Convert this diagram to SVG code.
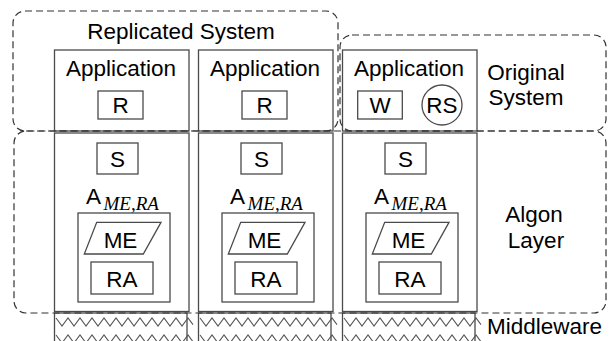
<svg xmlns="http://www.w3.org/2000/svg" width="610" height="341" viewBox="0 0 610 341">
<style>
.bx{fill:none;stroke:#4a4a4a;stroke-width:1.3}
.zz{fill:none;stroke:#555;stroke-width:1.1}
.ds{fill:none;stroke:#333;stroke-width:1.2;stroke-dasharray:7 4}
.t{font-family:"Liberation Sans",Arial,sans-serif;font-size:22.5px;fill:#000;text-anchor:middle}
.ts{font-family:"Liberation Sans",Arial,sans-serif;font-size:22.5px;fill:#000}
.it{font-family:"Liberation Serif","Times New Roman",serif;font-style:italic;font-size:19px;fill:#000}
</style>
<defs>
<g id="algon">
<rect class="bx" x="54.5" y="133" width="134.5" height="178.5"/>
<rect class="bx" x="97" y="143" width="41" height="31"/>
<text class="t" x="117.5" y="166.5">S</text>
<text class="ts" x="86" y="204">A</text>
<text class="it" x="103.5" y="210">ME,RA</text>
<rect class="bx" x="78" y="213" width="92" height="89"/>
<polygon class="bx" points="96.7,222.3 161,222.3 143.3,254 84.3,254"/>
<text class="t" x="120.5" y="248">ME</text>
<rect class="bx" x="91" y="262" width="62" height="32"/>
<text class="t" x="122" y="287">RA</text>
</g>
<g id="mw">
<rect class="bx" x="54.5" y="313" width="132.5" height="40"/>
<path class="zz" d="M56,318 l6,8 l6,-8 l6,8 l6,-8 l6,8 l6,-8 l6,8 l6,-8 l6,8 l6,-8 l6,8 l6,-8 l6,8 l6,-8 l6,8 l6,-8 l6,8 l6,-8 l6,8 l6,-8 l6,8 l6,-8 l5,6.7"/>
<path class="zz" d="M56,335 l6,8 l6,-8 l6,8 l6,-8 l6,8 l6,-8 l6,8 l6,-8 l6,8 l6,-8 l6,8 l6,-8 l6,8 l6,-8 l6,8 l6,-8 l6,8 l6,-8 l6,8 l6,-8 l6,8 l6,-8 l5,6.7"/>
</g>
</defs>
<g id="app1">
<rect class="bx" x="54.5" y="50" width="134.5" height="81"/>
<text class="t" x="121" y="76">Application</text>
<rect class="bx" x="98" y="91" width="45" height="28"/>
<text class="t" x="120.5" y="113">R</text>
</g>
<g id="app2" transform="translate(144,0)">
<rect class="bx" x="54.5" y="50" width="134.5" height="81"/>
<text class="t" x="121" y="76">Application</text>
<rect class="bx" x="98" y="91" width="45" height="28"/>
<text class="t" x="120.5" y="113">R</text>
</g>
<g id="app3" transform="translate(288,0)">
<rect class="bx" x="54.5" y="50" width="134.5" height="81"/>
<text class="t" x="121" y="76">Application</text>
<rect class="bx" x="69.7" y="91" width="44.6" height="28"/>
<text class="t" x="92" y="113">W</text>
<circle class="bx" cx="154" cy="105" r="20"/>
<text class="t" x="154" y="113">RS</text>
</g>
<g id="algon1"><use href="#algon"/></g>
<g id="algon2" transform="translate(144,0)"><use href="#algon"/></g>
<g id="algon3" transform="translate(288,0)"><use href="#algon"/></g>
<g id="mw1"><use href="#mw"/></g>
<g id="mw2" transform="translate(144,0)"><use href="#mw"/></g>
<g id="mw3" transform="translate(288,0)"><use href="#mw"/></g>
<g id="replicated">
<rect class="ds" x="13" y="11" width="325" height="120" rx="12"/>
<text class="t" x="181" y="39">Replicated System</text>
</g>
<g id="original">
<rect class="ds" x="340" y="35" width="266" height="96" rx="12"/>
<text class="t" x="526" y="80">Original</text>
<text class="t" x="526" y="105">System</text>
</g>
<g id="algonlayer">
<rect class="ds" x="14" y="131" width="592" height="182" rx="12"/>
<text class="t" x="534" y="222">Algon</text>
<text class="t" x="536" y="248">Layer</text>
</g>
<g id="middleware">
<text class="ts" x="487" y="334">Middleware</text>
</g>
</svg>
